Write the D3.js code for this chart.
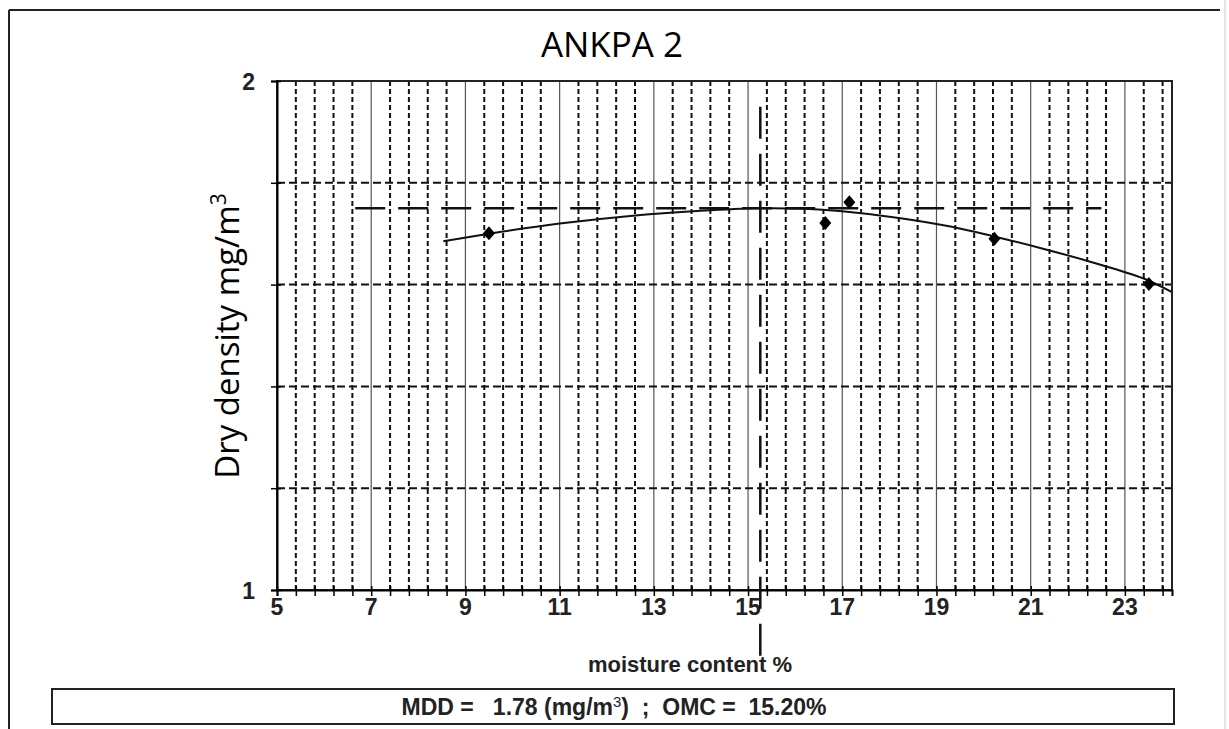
<!DOCTYPE html>
<html>
<head>
<meta charset="utf-8">
<script src="https://cdn.jsdelivr.net/npm/d3@7"></script>
<style>
  body { margin: 0; background: #fff; }
  svg { display: block; }
</style>
</head>
<body>
<svg id="chart" width="1229" height="729"></svg>
<script>
// valeurs
var xTicks = [5, 7, 9, 11, 13, 15, 17, 19, 21, 23];
var yTicks = [1, 2];
var moisture = [9.5, 16.64, 17.15, 20.23, 23.51];
var density = [1.701, 1.721, 1.762, 1.690, 1.601];
// courbe de tendance
var trendX = [8.53, 9.5, 11, 12.5, 14, 15.2, 16.2, 17, 18.2, 19.3, 20.2, 21.2, 22.3, 23.4, 24];
var trendY = [1.685, 1.700, 1.720, 1.735, 1.745, 1.750, 1.749, 1.744, 1.731, 1.714, 1.695, 1.672, 1.644, 1.612, 1.585];
// lignes MDD / OMC
var mddLine = {y: 1.75, x0: 6.66, x1: 22.5};
var omcLine = {x: 15.26, y0: 0.871, y1: 1.963};
var mddText = "1.78", omcText = "15.20%";

var svg = d3.select("#chart");
var margin = {top: 81, right: 57, bottom: 139, left: 277},
    width = 1229 - margin.left - margin.right,
    height = 729 - margin.top - margin.bottom;

var xScale = d3.scaleLinear().domain([5, 24]).range([margin.left, margin.left + width]);
var yScale = d3.scaleLinear().domain([1, 2]).range([margin.top + height, margin.top]);

// cadre extérieur
svg.append("line").attr("x1", 9).attr("x2", 1220).attr("y1", 10).attr("y2", 10)
  .attr("stroke", "#222").attr("stroke-width", 2);
svg.append("line").attr("x1", 9).attr("x2", 9).attr("y1", 10).attr("y2", 729)
  .attr("stroke", "#222").attr("stroke-width", 2);
svg.append("line").attr("x1", 1225).attr("x2", 1225).attr("y1", 0).attr("y2", 729)
  .attr("stroke", "#ccc").attr("stroke-width", 1);

// titre
svg.append("text").attr("x", 612).attr("y", 57)
  .attr("text-anchor", "middle")
  .style("font-family", "'Open Sans', sans-serif").style("font-size", "35px")
  .text("ANKPA 2");

// grille verticale mineure (pointillés tous les 0.4)
var minorX = d3.range(5, 24.001, 0.4).filter(function(d){
  return Math.abs((d - 5) / 2 - Math.round((d - 5) / 2)) > 1e-6;
});
svg.append("g").selectAll("line").data(minorX).enter().append("line")
  .attr("x1", d => xScale(d)).attr("x2", d => xScale(d))
  .attr("y1", yScale(2)).attr("y2", yScale(1))
  .attr("stroke", "#111").attr("stroke-width", 2).attr("stroke-dasharray", "5,3");

// grille verticale majeure
svg.append("g").selectAll("line").data(xTicks).enter().append("line")
  .attr("x1", d => xScale(d)).attr("x2", d => xScale(d))
  .attr("y1", yScale(2)).attr("y2", yScale(1))
  .attr("stroke", "#555").attr("stroke-width", 1.2);

// grille horizontale (0.2)
var minorY = [1.2, 1.4, 1.6, 1.8];
svg.append("g").selectAll("line").data(minorY).enter().append("line")
  .attr("x1", xScale(5)).attr("x2", xScale(24))
  .attr("y1", d => yScale(d)).attr("y2", d => yScale(d))
  .attr("stroke", "#111").attr("stroke-width", 2).attr("stroke-dasharray", "8,4");

// bord de la zone de tracé
svg.append("rect").attr("x", xScale(5)).attr("y", yScale(2))
  .attr("width", xScale(24) - xScale(5)).attr("height", yScale(1) - yScale(2))
  .attr("fill", "none").attr("stroke", "#222").attr("stroke-width", 2);

// axes
var allX = d3.range(5, 24.001, 0.4);
var xAxis = g => g
  .attr("transform", `translate(0, ${yScale(1)})`)
  .call(d3.axisBottom(xScale).tickValues(allX).tickSize(6).tickFormat(""))
  .call(g => g.select(".domain").attr("stroke-width", 2))
  .call(g => g.selectAll(".tick line").attr("y1", -4).attr("stroke-width", 1.5));
svg.append("g").attr("class", "xAxis").call(xAxis);

var yAxis = g => g
  .attr("transform", `translate(${xScale(5)}, 0)`)
  .call(d3.axisLeft(yScale).tickValues(d3.range(1, 2.001, 0.2)).tickSize(6).tickFormat(""))
  .call(g => g.select(".domain").attr("stroke-width", 2))
  .call(g => g.selectAll(".tick line").attr("x1", 4).attr("stroke-width", 1.5));
svg.append("g").attr("class", "yAxis").call(yAxis);

// étiquettes des graduations
svg.append("g").selectAll("text").data(xTicks).enter().append("text")
  .attr("x", d => xScale(d)).attr("y", 615)
  .attr("text-anchor", "middle")
  .style("font-family", "'Liberation Sans', Arial, sans-serif")
  .style("font-weight", "bold").style("font-size", "23px").attr("fill", "#222")
  .text(d => d);
svg.append("g").selectAll("text").data(yTicks).enter().append("text")
  .attr("x", 255).attr("y", d => yScale(d) + 9)
  .attr("text-anchor", "end")
  .style("font-family", "'Liberation Sans', Arial, sans-serif")
  .style("font-weight", "bold").style("font-size", "23px").attr("fill", "#222")
  .text(d => d);

// titres des axes
svg.append("text").attr("x", 690).attr("y", 672)
  .attr("text-anchor", "middle")
  .style("font-family", "'Liberation Sans', Arial, sans-serif")
  .style("font-weight", "bold").style("font-size", "22px").attr("fill", "#222")
  .text("moisture content %");

var yLab = svg.append("text")
  .attr("transform", "translate(239, 336) rotate(-90)")
  .attr("text-anchor", "middle")
  .style("font-family", "'Open Sans', sans-serif").style("font-size", "33px");
yLab.append("tspan").text("Dry density mg/m");
yLab.append("tspan").attr("dy", -13).style("font-size", "21px").text("3");

// ligne MDD
svg.append("line")
  .attr("x1", xScale(mddLine.x0)).attr("x2", xScale(mddLine.x1))
  .attr("y1", yScale(mddLine.y)).attr("y2", yScale(mddLine.y))
  .attr("stroke", "#111").attr("stroke-width", 2.5).attr("stroke-dasharray", "30,13");

// ligne OMC (tracée du bas vers le haut)
svg.append("line")
  .attr("x1", xScale(omcLine.x)).attr("x2", xScale(omcLine.x))
  .attr("y1", yScale(omcLine.y0)).attr("y2", yScale(omcLine.y1))
  .attr("stroke", "#111").attr("stroke-width", 2.5).attr("stroke-dasharray", "32,15");

// courbe de tendance
var trend = trendX.map((d, i) => [d, trendY[i]]);
svg.append("path").datum(trend)
  .attr("fill", "none").attr("stroke", "#111").attr("stroke-width", 2)
  .attr("d", d3.line().x(d => xScale(d[0])).y(d => yScale(d[1])).curve(d3.curveCatmullRom));

// points (losanges)
svg.append("g").selectAll("path").data(moisture).enter().append("path")
  .attr("transform", (d, i) => `translate(${xScale(d)}, ${yScale(density[i])})`)
  .attr("d", "M0,-7L6,0L0,7L-6,0Z")
  .attr("fill", "#000");

// encadré du bas
svg.append("rect").attr("x", 52).attr("y", 689).attr("width", 1122).attr("height", 35)
  .attr("fill", "none").attr("stroke", "#222").attr("stroke-width", 2);
var box = svg.append("text").attr("x", 614).attr("y", 715)
  .attr("text-anchor", "middle")
  .style("font-family", "'Liberation Sans', Arial, sans-serif")
  .style("font-weight", "bold").style("font-size", "23px").attr("fill", "#222")
  .attr("xml:space", "preserve");
box.append("tspan").text("MDD =   " + mddText + " (mg/m");
box.append("tspan").attr("dy", -8).style("font-size", "15px").style("font-weight", "normal").text("3");
box.append("tspan").attr("dy", 8).text(")  ;  OMC =  " + omcText);
</script>
</body>
</html>
